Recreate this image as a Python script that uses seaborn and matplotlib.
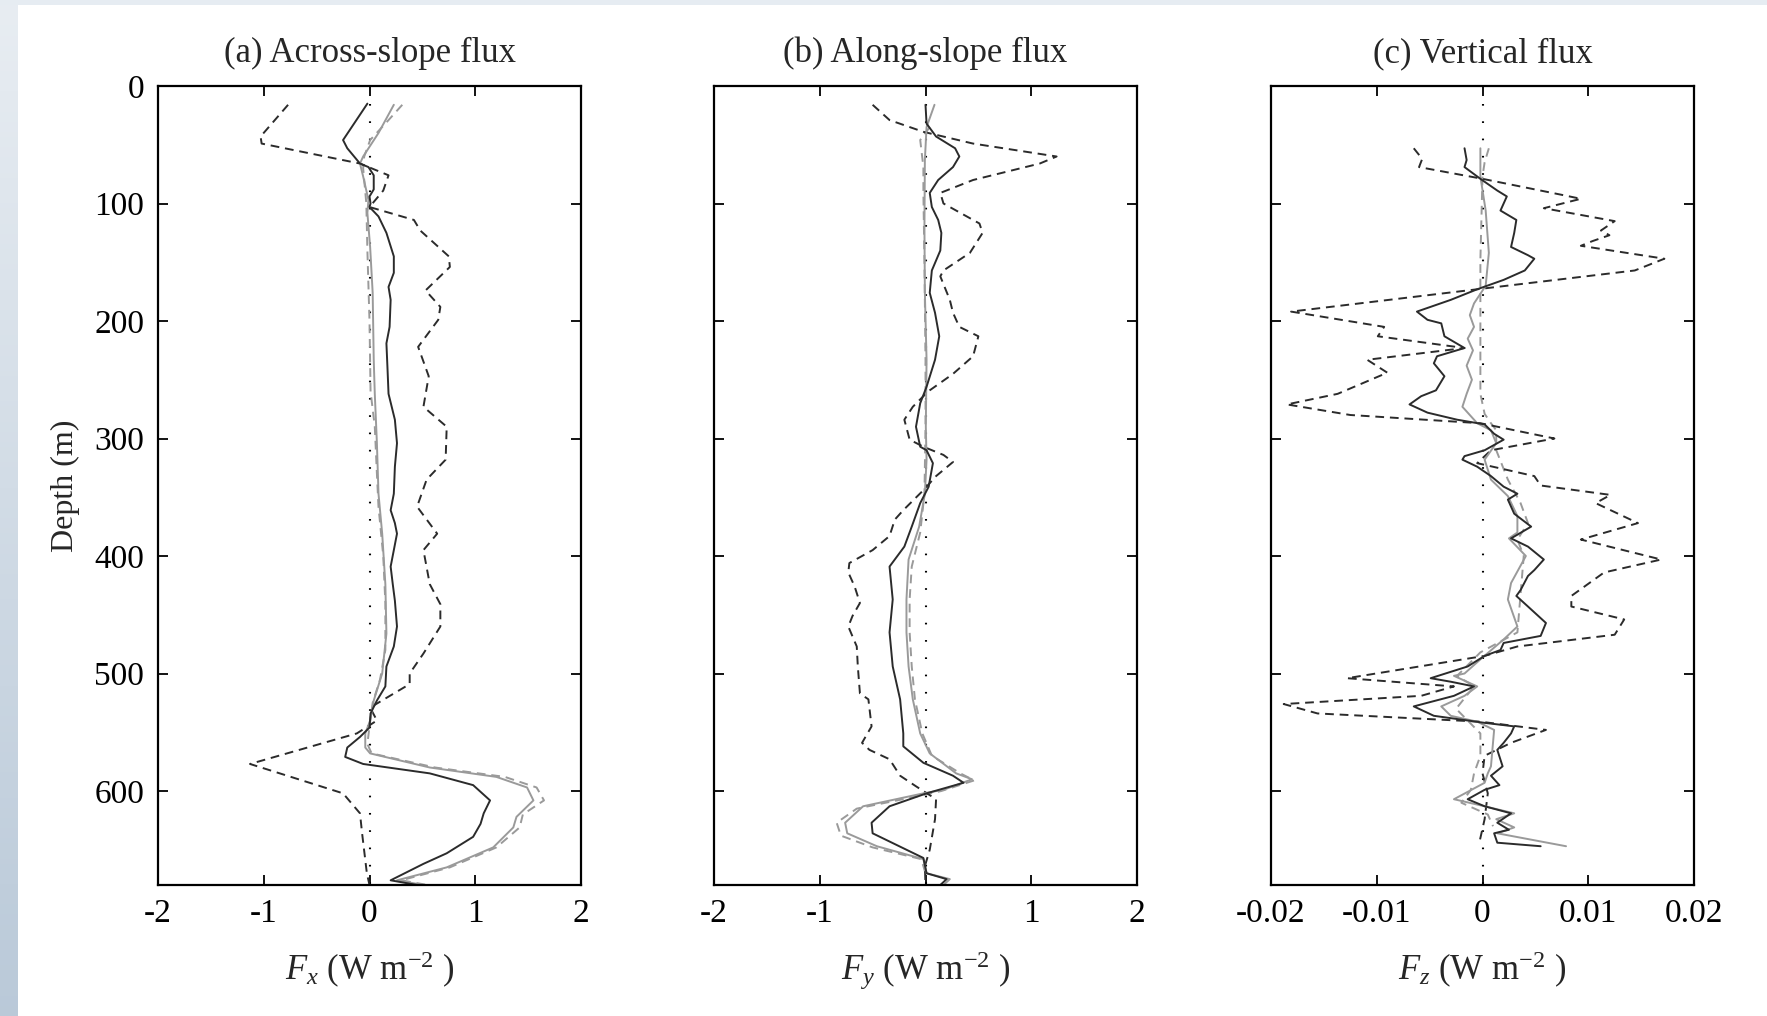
import numpy as np
import matplotlib
matplotlib.use("Agg")
import matplotlib.pyplot as plt
from matplotlib.patches import Rectangle
import seaborn as sns

# ---------------- data: depth (m) and flux values ----------------
# (a) across-slope flux, W m^-2
a_dark_depth = [15, 46, 53, 66, 69, 76, 88, 94, 100, 103,
                111, 125, 145, 159, 171, 182, 205, 219, 240, 262,
                284, 304, 324, 347, 361, 372, 381, 395, 409, 424,
                438, 460, 477, 494, 511, 523, 534, 546, 554, 563,
                571, 577, 585, 595, 608, 619, 628, 639, 653, 662,
                676, 680]
a_dark_val = [-0.02, -0.25, -0.21, -0.09, -0.01, 0.04, 0.04, 0.0, 0.01, 0.0,
              0.085, 0.16, 0.23, 0.23, 0.18, 0.2, 0.19, 0.16, 0.17, 0.18,
              0.24, 0.26, 0.24, 0.23, 0.2, 0.24, 0.26, 0.23, 0.2, 0.22,
              0.24, 0.26, 0.23, 0.16, 0.15, 0.07, 0.01, 0.0, -0.09, -0.21,
              -0.23, -0.06, 0.57, 0.98, 1.14, 1.08, 1.05, 0.98, 0.73, 0.51,
              0.2, 0.45]

a_grey_depth = [16, 40, 60, 66, 77, 97, 108, 137, 176, 233,
                262, 304, 347, 381, 424, 466, 500, 523, 540, 551,
                563, 568, 580, 588, 597, 608, 622, 631, 648, 665,
                676, 680]
a_grey_val = [0.23, 0.085, -0.06, -0.09, -0.06, -0.01, -0.02, 0.006, 0.03, 0.04,
              0.05, 0.07, 0.085, 0.12, 0.15, 0.16, 0.12, 0.04, 0.006, -0.04,
              -0.04, 0.006, 0.57, 1.2, 1.49, 1.55, 1.39, 1.36, 1.17, 0.73,
              0.26, 0.51]

a_grey_dash_depth = [16, 30, 46, 60, 70, 100, 140, 200, 260, 290,
                     330, 358, 400, 440, 480, 505, 525, 545, 560, 568,
                     580, 588, 597, 608, 620, 631, 648, 665, 676, 680]
a_grey_dash_val = [0.31, 0.17, 0.006, -0.05, -0.06, -0.03, -0.02, 0.0, 0.01, 0.05,
                   0.07, 0.085, 0.13, 0.15, 0.15, 0.1, 0.03, 0.0, -0.02, 0.02,
                   0.62, 1.28, 1.58, 1.65, 1.45, 1.42, 1.2, 0.76, 0.3, 0.55]

a_dark_dash_depth = [16, 43, 49, 66, 76, 89, 103, 114, 123, 145,
                     154, 174, 188, 199, 222, 247, 273, 290, 318, 335,
                     358, 381, 395, 424, 441, 460, 483, 500, 509, 529,
                     540, 551, 577, 602, 619, 636, 670, 680]
a_dark_dash_val = [-0.77, -1.03, -1.02, -0.09, 0.18, 0.13, 0.0, 0.42, 0.48, 0.75,
                   0.76, 0.53, 0.67, 0.65, 0.46, 0.56, 0.51, 0.73, 0.72, 0.54,
                   0.45, 0.64, 0.51, 0.57, 0.67, 0.67, 0.51, 0.38, 0.38, 0.006,
                   0.07, -0.12, -1.13, -0.25, -0.09, -0.07, -0.025, 0.0]

# (b) along-slope flux, W m^-2
b_dark_depth = [16, 32, 43, 53, 60, 69, 80, 91, 103, 114,
                125, 140, 157, 176, 193, 213, 233, 256, 270, 290,
                307, 310, 321, 341, 355, 375, 392, 409, 437, 465,
                494, 522, 551, 562, 576, 587, 593, 602, 613, 627,
                636, 657, 670, 675, 680]
b_dark_val = [0.0, 0.01, 0.1, 0.28, 0.32, 0.26, 0.12, 0.04, 0.06, 0.12,
              0.15, 0.14, 0.06, 0.04, 0.09, 0.13, 0.09, 0.01, -0.05, -0.09,
              -0.05, 0.01, 0.07, 0.03, -0.05, -0.13, -0.2, -0.34, -0.31, -0.34,
              -0.31, -0.24, -0.21, -0.21, -0.02, 0.26, 0.36, 0.01, -0.34, -0.51,
              -0.5, -0.02, 0.01, 0.2, 0.14]

b_grey_depth = [16, 35, 63, 120, 176, 233, 290, 318, 347, 375,
                403, 437, 465, 494, 522, 551, 568, 585, 590, 599,
                602, 613, 627, 636, 647, 658, 670, 675, 680]
b_grey_val = [0.085, 0.01, -0.006, -0.01, -0.006, 0.01, 0.003, 0.01, -0.006, -0.06,
              -0.16, -0.18, -0.18, -0.16, -0.12, -0.05, 0.04, 0.29, 0.44, 0.17,
              -0.02, -0.59, -0.76, -0.74, -0.46, -0.02, 0.01, 0.23, 0.17]

b_grey_dash_depth = [35, 46, 69, 91, 150, 233, 290, 347, 380, 409,
                     437, 465, 494, 522, 551, 570, 585, 591, 600, 604,
                     615, 627, 638, 648, 658, 670]
b_grey_dash_val = [0.04, -0.05, -0.02, -0.02, -0.01, 0.0, 0.0, -0.01, -0.05, -0.13,
                   -0.15, -0.15, -0.13, -0.1, -0.03, 0.06, 0.33, 0.46, 0.15, -0.05,
                   -0.65, -0.84, -0.8, -0.5, -0.04, 0.0]

b_dark_dash_depth = [16, 29, 39, 49, 60, 66, 80, 91, 100, 117,
                     125, 142, 157, 162, 182, 193, 205, 213, 230, 245,
                     259, 264, 273, 284, 301, 307, 314, 320, 332, 344,
                     361, 369, 383, 395, 406, 414, 426, 440, 451, 460,
                     477, 494, 517, 522, 545, 559, 565, 573, 587, 596,
                     607, 624, 650, 664, 680]
b_dark_dash_val = [-0.5, -0.34, -0.02, 0.45, 1.24, 1.08, 0.45, 0.14, 0.17, 0.51,
                   0.54, 0.42, 0.17, 0.14, 0.23, 0.26, 0.32, 0.5, 0.45, 0.26,
                   0.04, -0.02, -0.12, -0.2, -0.15, -0.02, 0.17, 0.26, 0.1, -0.02,
                   -0.21, -0.29, -0.34, -0.5, -0.72, -0.73, -0.67, -0.62, -0.69, -0.73,
                   -0.65, -0.64, -0.62, -0.54, -0.51, -0.6, -0.53, -0.34, -0.24, -0.09,
                   0.1, 0.09, 0.04, -0.006, 0.0]

# (c) vertical flux, W m^-2
c_dark_depth = [53, 63, 69, 79, 89, 94, 106, 114, 125, 137,
                144, 147, 157, 165, 173, 182, 192, 199, 202, 213,
                223, 230, 236, 247, 259, 264, 271, 278, 284, 288,
                296, 301, 304, 310, 315, 318, 324, 332, 341, 347,
                352, 364, 375, 385, 392, 403, 412, 417, 429, 434,
                443, 457, 468, 474, 480, 485, 494, 504, 507, 511,
                519, 528, 536, 542, 545, 551, 559, 565, 579, 587,
                595, 599, 607, 613, 619, 627, 633, 636, 644, 647]
c_dark_val = [-0.0017, -0.0015, -0.0017, -0.0002, 0.0014, 0.0023, 0.0017, 0.0032, 0.0030, 0.0027,
              0.0043, 0.0049, 0.0040, 0.0020, -0.0005, -0.0030, -0.0062, -0.0052, -0.0039, -0.0036,
              -0.0017, -0.0043, -0.0046, -0.0036, -0.0044, -0.0058, -0.0069, -0.0052, -0.0024, 0.0002,
              0.0011, 0.0020, 0.0014, 0.0002, -0.0017, -0.0019, -0.0005, 0.0008, 0.0020, 0.0033,
              0.0024, 0.0030, 0.0046, 0.0027, 0.0043, 0.0058, 0.0049, 0.0043, 0.0036, 0.0032,
              0.0043, 0.0060, 0.0055, 0.0020, 0.0017, 0.0002, -0.0014, -0.0049, -0.0030, -0.0008,
              -0.0027, -0.0065, -0.0046, 0.0002, 0.0030, 0.0027, 0.0020, 0.0014, 0.0019, 0.0008,
              0.0016, 0.0002, -0.0014, 0.0002, 0.0027, 0.0014, 0.0025, 0.0011, 0.0014, 0.0055]

c_grey_depth = [53, 77, 106, 142, 170, 185, 195, 205, 215, 225,
                238, 250, 262, 273, 287, 293, 304, 318, 335, 349,
                366, 380, 385, 400, 423, 437, 460, 471, 488, 500,
                502, 511, 519, 528, 536, 541, 548, 579, 585, 593,
                607, 613, 619, 624, 631, 636, 647]
c_grey_val = [-0.0002, -0.0002, 0.0003, 0.0006, 0.0003, -0.0008, -0.0012, -0.0008, -0.0014, -0.0009,
              -0.0015, -0.0010, -0.0015, -0.0019, -0.0005, 0.0008, 0.0013, 0.0002, 0.0008, 0.0024,
              0.0033, 0.0033, 0.0025, 0.0041, 0.0027, 0.0024, 0.0033, 0.0020, -0.0002, -0.0017,
              -0.0027, -0.0005, -0.0017, -0.0039, -0.0030, -0.0005, 0.0011, 0.0008, 0.0005, 0.0002,
              -0.0027, 0.0002, 0.0030, 0.0013, 0.0030, 0.0014, 0.0079]

c_grey_dash_depth = [53, 65, 77, 148, 262, 279, 287, 293, 310, 335,
                     355, 372, 386, 400, 465, 482, 502, 511, 530, 551,
                     570, 585, 599, 610, 620, 630]
c_grey_dash_val = [0.0006, 0.0002, 0.0, -0.0002, -0.0002, 0.0002, 0.0008, 0.0013, 0.0013, 0.0024,
                   0.0036, 0.0043, 0.0033, 0.0039, 0.0033, -0.0002, -0.0024, -0.0008, -0.0025, -0.0002,
                   -0.0002, -0.0008, -0.0011, -0.0020, 0.0005, 0.0010]

c_dark_dash_depth = [53, 62, 69, 79, 93, 96, 104, 115, 123, 127,
                     132, 136, 147, 157, 173, 192, 205, 213, 223, 233,
                     244, 262, 271, 280, 287, 300, 310, 321, 332, 340,
                     348, 355, 372, 386, 403, 414, 434, 443, 454, 467,
                     477, 485, 504, 511, 519, 526, 534, 541, 548, 559,
                     570, 585, 602, 624, 644]
c_dark_dash_val = [-0.0065, -0.0057, -0.0060, 0.0, 0.0077, 0.0093, 0.0058, 0.0125, 0.0112, 0.0120,
                   0.0104, 0.0093, 0.0172, 0.0144, -0.0005, -0.0181, -0.0093, -0.0099, -0.0017, -0.0109,
                   -0.0090, -0.0137, -0.0185, -0.0125, -0.0002, 0.0068, 0.0008, -0.0005, 0.0049, 0.0055,
                   0.0121, 0.0107, 0.0147, 0.0093, 0.0169, 0.0115, 0.0084, 0.0084, 0.0134, 0.0125,
                   0.0033, 0.0002, -0.0128, -0.0027, -0.0058, -0.0188, -0.0156, -0.0002, 0.0060, 0.0027,
                   0.0002, 0.0, 0.0005, 0.0002, -0.0003]

# zero reference line
zero_depth = [15, 680]
zero_val = [0.0, 0.0]

titles = ["(a) Across-slope flux", "(b) Along-slope flux", "(c) Vertical flux"]
xlabels = [r"$F_x$ (W m$^{\mathrm{-2}}$ )", r"$F_y$ (W m$^{\mathrm{-2}}$ )",
           r"$F_z$ (W m$^{\mathrm{-2}}$ )"]
xticks_ab = [-2, -1, 0, 1, 2]
xticks_c = [-0.02, -0.01, 0, 0.01, 0.02]
xticklabels_ab = ["-2", "-1", "0", "1", "2"]
xticklabels_c = ["-0.02", "-0.01", "0", "0.01", "0.02"]
yticks = [0, 100, 200, 300, 400, 500, 600]
ylabel = "Depth (m)"

# ---------------- style ----------------
sns.set_style("ticks")
plt.rcParams["font.family"] = ["Liberation Serif", "DejaVu Serif"]
plt.rcParams["mathtext.fontset"] = "custom"
plt.rcParams["mathtext.rm"] = "Liberation Serif"
plt.rcParams["mathtext.it"] = "Liberation Serif:italic"
plt.rcParams["axes.unicode_minus"] = False

DARK = "#2b2b2b"
GREY = "#9a9a9a"
FS_TICK = 24
FS_TEXT = 25
LW = 1.4

W, H = 1767, 1016
fig = plt.figure(figsize=(W / 100, H / 100), dpi=100, facecolor="white")

# soft bluish frame on the left and top edges
strip = fig.add_axes([0, 0, 17 / W, 1], zorder=-5)
shade = np.linspace(0, 1, 200)[:, None]
top_c = np.array([0.91, 0.93, 0.95])
bot_c = np.array([0.73, 0.79, 0.85])
grad = (1 - shade) * top_c + shade * bot_c
strip.imshow(grad[:, None, :].repeat(2, axis=1), aspect="auto", extent=[0, 1, 0, 1])
strip.axis("off")
fig.patches.append(Rectangle((0, 1 - 5 / H), 1, 5 / H, transform=fig.transFigure,
                             facecolor="#e6ecf2", edgecolor="none", zorder=-4))

ax_left = [158, 714, 1271]
ax_w, ax_top, ax_bot = 423, 86, 885
axes = [fig.add_axes([l / W, 1 - ax_bot / H, ax_w / W, (ax_bot - ax_top) / H]) for l in ax_left]

panels = [
    (a_dark_depth, a_dark_val, a_grey_depth, a_grey_val,
     a_dark_dash_depth, a_dark_dash_val, a_grey_dash_depth, a_grey_dash_val),
    (b_dark_depth, b_dark_val, b_grey_depth, b_grey_val,
     b_dark_dash_depth, b_dark_dash_val, b_grey_dash_depth, b_grey_dash_val),
    (c_dark_depth, c_dark_val, c_grey_depth, c_grey_val,
     c_dark_dash_depth, c_dark_dash_val, c_grey_dash_depth, c_grey_dash_val),
]

for i, (ax, p) in enumerate(zip(axes, panels)):
    dd, dv, gd, gv, ddd, ddv, gdd, gdv = p
    common = dict(ax=ax, sort=False, estimator=None, legend=False)
    sns.lineplot(x=zero_val, y=zero_depth, color="black", lw=1.5,
                 dashes=False, **common)
    ax.lines[-1].set_linestyle((0, (0.8, 7.5)))
    sns.lineplot(x=gdv, y=gdd, color=GREY, lw=LW, **common)
    ax.lines[-1].set_dashes((4.5, 3.0))
    sns.lineplot(x=ddv, y=ddd, color=DARK, lw=LW, **common)
    ax.lines[-1].set_dashes((4.5, 3.0))
    sns.lineplot(x=gv, y=gd, color=GREY, lw=LW, **common)
    sns.lineplot(x=dv, y=dd, color=DARK, lw=LW, **common)

    if i < 2:
        ax.set_xlim(-2, 2)
        ax.set_xticks(xticks_ab)
        ax.set_xticklabels(xticklabels_ab)
    else:
        ax.set_xlim(-0.02, 0.02)
        ax.set_xticks(xticks_c)
        ax.set_xticklabels(xticklabels_c)
    ax.set_ylim(680, 0)
    ax.set_yticks(yticks)
    if i == 0:
        ax.set_yticklabels([str(t) for t in yticks])
        ax.set_ylabel(ylabel, fontsize=23, labelpad=10)
    else:
        ax.set_yticklabels([])
        ax.set_ylabel("")
    ax.set_xlabel(xlabels[i], fontsize=FS_TEXT, labelpad=15)
    ax.set_title(titles[i], fontsize=FS_TEXT, pad=17)
    ax.tick_params(direction="in", top=True, right=True, length=7, width=1.3,
                   labelsize=FS_TICK, pad=10, colors="black")
    for s in ax.spines.values():
        s.set_linewidth(1.6)
        s.set_color("black")
    ax.set_facecolor("white")

fig.savefig("out.png", dpi=100, facecolor=fig.get_facecolor())
